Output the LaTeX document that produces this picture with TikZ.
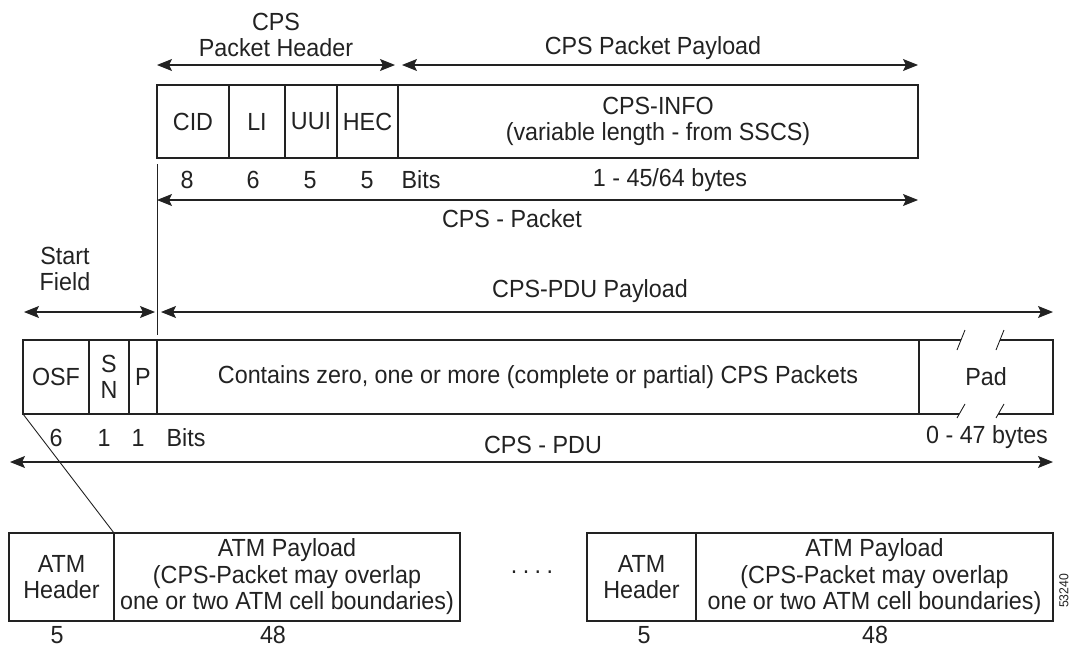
\documentclass[tikz,border=0pt]{standalone}
\usepackage{fontspec}
\setmainfont[FakeStretch=0.94]{Liberation Sans}
\usetikzlibrary{arrows.meta}
\definecolor{ink}{HTML}{222222}
\tikzset{
  cell/.style={draw=ink, line width=1.1pt, inner sep=0pt, outer sep=0pt, anchor=north west, align=center, text=ink},
  lbl/.style={text=ink, inner sep=0pt, align=center},
  dim/.style={ink, line width=1.1pt, {Stealth[length=15pt,width=12pt,inset=3pt]}-{Stealth[length=15pt,width=12pt,inset=3pt]}},
  thin/.style={ink, line width=0.9pt}
}
\begin{document}
\begin{tikzpicture}[x=1pt,y=-1pt,font=\fontsize{24.8}{26.5}\selectfont]
\useasboundingbox (0,0) rectangle (1072,648);
% ---- top box (CPS packet)
\node[cell, minimum width=72, minimum height=73] (cid) at (157,85) {CID};
\node[cell, minimum width=56, minimum height=73] (li) at (229,85) {LI};
\node[cell, minimum width=52, minimum height=73] (uui) at (285,85) {UUI};
\node[cell, minimum width=61, minimum height=73] (hec) at (337,85) {HEC};
\node[cell, minimum width=520, minimum height=73] (info) at (398,85) {CPS-INFO\\(variable length - from SSCS)};
% header arrows
\coordinate (h1) at (157,65); \coordinate (h2) at (395,65);
\coordinate (p1) at (402,65); \coordinate (p2) at (918,65);
\draw[dim] (h1) -- (h2);
\draw[dim] (p1) -- (p2);
\node[lbl] (hdrlbl) at (276,35) {CPS\\Packet Header};
\node[lbl] (paylbl) at (653,48) {CPS Packet Payload};
% bits row
\node[lbl] (b8) at (187,180) {8};
\node[lbl] (b6) at (253,180) {6};
\node[lbl] (b5a) at (310,180) {5};
\node[lbl] (b5b) at (367,180) {5};
\node[lbl] (bits1) at (421,180) {Bits};
\node[lbl] (bytes1) at (670,180) {1 - 45/64 bytes};
\coordinate (c1) at (157,200); \coordinate (c2) at (918,200);
\draw[dim] (c1) -- (c2);
\node[lbl] (cpspkt) at (512,219) {CPS - Packet};
% vertical divider line
\coordinate (v1) at (157,164); \coordinate (v2) at (157,335);
\draw[thin] (v1) -- (v2);
% ---- start field / PDU payload
\node[lbl] (start) at (65,269) {Start\\Field};
\node[lbl] (pdupay) at (590,291) {CPS-PDU Payload};
\coordinate (s1) at (24,312); \coordinate (s2) at (155,312);
\coordinate (q1) at (161,312); \coordinate (q2) at (1053,312);
\draw[dim] (s1) -- (s2);
\draw[dim] (q1) -- (q2);
% ---- CPS-PDU box
\node[cell, minimum width=66, minimum height=74] (osf) at (23,340) {OSF};
\node[cell, minimum width=40, minimum height=74, font=\fontsize{24.8}{26}\selectfont] (sn) at (89,340) {S\\N};
\node[cell, minimum width=28, minimum height=74] (p) at (129,340) {P};
\node[cell, minimum width=762, minimum height=74] (cont) at (157,340) {Contains zero, one or more (complete or partial) CPS Packets};
\node[cell, draw=none, minimum width=134, minimum height=74] (pad) at (919,340) {Pad};
% pad broken border
\coordinate (t1) at (961,340); \coordinate (t2) at (1000,340);
\coordinate (u1) at (959,414); \coordinate (u2) at (998,414);
\draw[ink, line width=1.1pt] (t1) -- (pad.north west);
\draw[ink, line width=1.1pt] (t2) -- (pad.north east) -- (pad.south east) -- (u2);
\draw[ink, line width=1.1pt] (u1) -- (pad.south west);
\coordinate (k1a) at (957,350); \coordinate (k1b) at (965,330);
\coordinate (k2a) at (996,350); \coordinate (k2b) at (1004,330);
\coordinate (k3a) at (957,418); \coordinate (k3b) at (965,404);
\coordinate (k4a) at (996,418); \coordinate (k4b) at (1004,404);
\draw[thin] (k1a) -- (k1b); \draw[thin] (k2a) -- (k2b);
\draw[thin] (k3a) -- (k3b); \draw[thin] (k4a) -- (k4b);
% bits row 2
\node[lbl] (n6) at (56,438) {6};
\node[lbl] (n1a) at (104,438) {1};
\node[lbl] (n1b) at (138,438) {1};
\node[lbl] (bits2) at (186,438) {Bits};
\node[lbl] (bytes2) at (987,437) {0 - 47 bytes};
\node[lbl] (cpspdu) at (543,445) {CPS - PDU};
\coordinate (d1) at (10,462); \coordinate (d2) at (1053,462);
\draw[dim] (d1) -- (d2);
% ---- ATM cells
\node[cell, minimum width=105, minimum height=88] (atmh1) at (9,533) {ATM\\Header};
\node[cell, minimum width=346, minimum height=88] (atmp1) at (114,533) {ATM Payload\\(CPS-Packet may overlap\\one or two ATM cell boundaries)};
\node[cell, minimum width=109, minimum height=88] (atmh2) at (587,533) {ATM\\Header};
\node[cell, minimum width=357, minimum height=88] (atmp2) at (696,533) {ATM Payload\\(CPS-Packet may overlap\\one or two ATM cell boundaries)};
\draw[thin] (osf.south west) -- (atmh1.north east);
\node[lbl] (dots) at (532,572) {.\hspace{5.5pt}.\hspace{5.5pt}.\hspace{5.5pt}.};
\node[lbl, anchor=base] (a5a) at (57,643) {5};
\node[lbl, anchor=base] (a48a) at (273,643) {48};
\node[lbl, anchor=base] (a5b) at (644,643) {5};
\node[lbl, anchor=base] (a48b) at (875,643) {48};
\node[lbl, rotate=90, font=\fontsize{13}{14}\selectfont] (fig) at (1064,591) {53240};
\end{tikzpicture}
\end{document}
